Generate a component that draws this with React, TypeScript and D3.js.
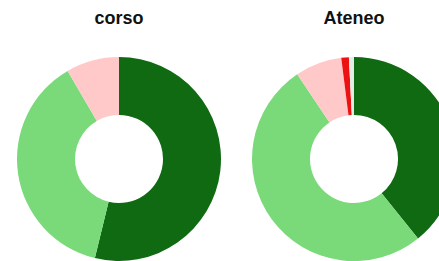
import * as d3 from "d3";

// slice order: dark green, light green, pink, red, pale
const categories = ["A", "B", "C", "D", "E"];
const colors = ["#0f6a12", "#7ada7a", "#ffc9c9", "#ee1111", "#e4ece8"];

const corsoValues = [53.8, 37.8, 8.4, 0, 0];
const ateneoValues = [39.2, 51.4, 7.4, 1.2, 0.8];

const titles = ["corso", "Ateneo"];

const width = 439;
const height = 261;

function Donut({ values, cx, cy, title }: { values: number[]; cx: number; cy: number; title: string }) {
    const pie = d3.pie<number>().sort(null).value((d) => d);
    const arc = d3.arc<d3.PieArcDatum<number>>().innerRadius(44).outerRadius(102);
    const arcs = pie(values);
    return (
        <g>
            <text x={cx} y={23.5} textAnchor="middle" fontFamily="Liberation Sans, Arial, sans-serif" fontWeight="bold" fontSize={18} fill="#111">{title}</text>
            <g transform={`translate(${cx},${cy})`}>
                {arcs.map((a, i) => (
                    <path key={categories[i]} d={arc(a) as string} fill={colors[i]} />
                ))}
            </g>
        </g>
    );
}

export default function App() {
    return (
        <div style={{ position: "fixed", left: 0, top: 0 }}>
            <svg width={width} height={height} style={{ display: "block", background: "white" }}>
                <Donut values={corsoValues} cx={119} cy={159} title={titles[0]} />
                <Donut values={ateneoValues} cx={354} cy={159} title={titles[1]} />
            </svg>
        </div>
    );
}
